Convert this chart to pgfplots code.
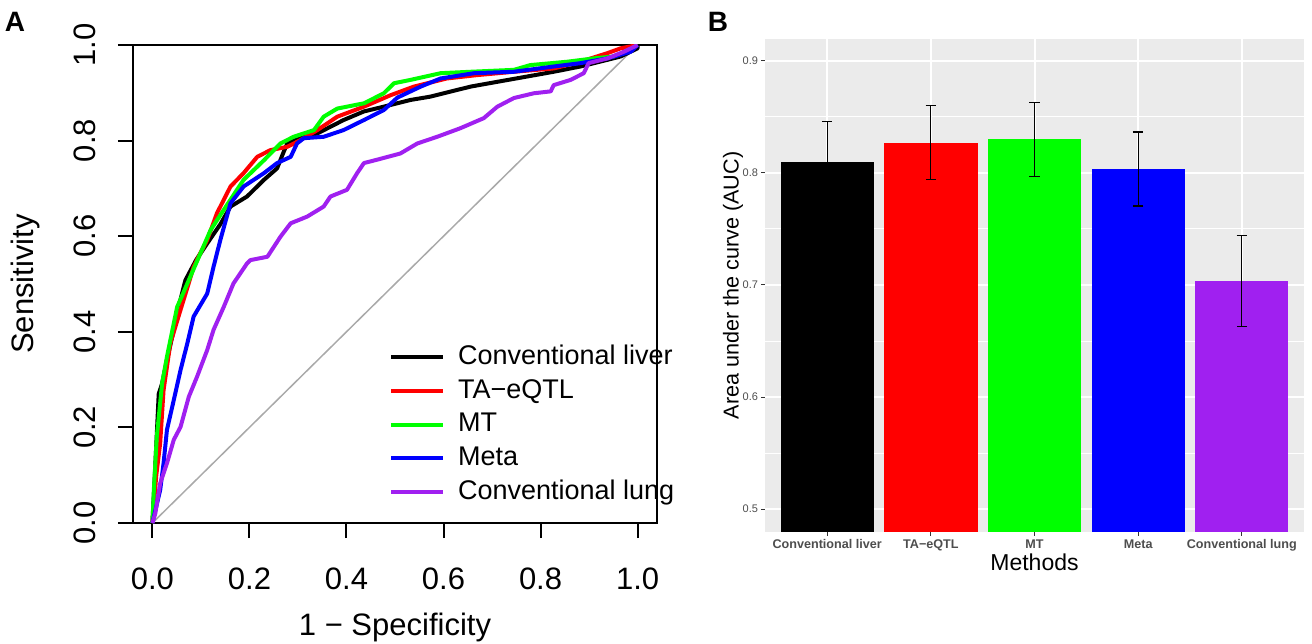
\documentclass[border=0pt]{standalone}
\usepackage{fontspec}
\setmainfont{Liberation Sans}
\usepackage{pgfplots}
\pgfplotsset{compat=1.18}
\definecolor{rpurple}{HTML}{A020F0}
\definecolor{rgreen}{HTML}{00FF00}
\definecolor{rgrey}{HTML}{A9A9A9}
\definecolor{ggbg}{HTML}{EBEBEB}
\definecolor{ggtext}{HTML}{4D4D4D}
\definecolor{ggtick}{HTML}{333333}
\newcommand{\fs}[1]{\fontsize{#1}{1.2\dimexpr#1pt\relax}\selectfont}

\begin{document}
\begin{tikzpicture}
\path[use as bounding box] (0,0) rectangle (656pt,321.5pt);

% panel letters
\node[font=\fs{14}\bfseries] at (7.5pt,310.5pt) {A};
\node[font=\fs{14}\bfseries] at (359pt,310.5pt) {B};

% ---- A: ROC curves ----
\begin{axis}[
  at={(66.5pt,60pt)}, anchor=south west,
  scale only axis, width=262pt, height=239pt,
  xmin=-0.04, xmax=1.04, ymin=0, ymax=1,
  axis line style={black, line width=1pt},
  xtick={0,0.2,0.4,0.6,0.8,1}, xticklabels={0.0,0.2,0.4,0.6,0.8,1.0},
  ytick={0,0.2,0.4,0.6,0.8,1}, yticklabels={0.0,0.2,0.4,0.6,0.8,1.0},
  tick align=outside, xtick pos=left, ytick pos=left,
  major tick length=7.5pt,
  tick style={black, line width=1pt},
  /pgf/number format/assume math mode=true,
  tick label style={font=\fs{15.5}, inner sep=0pt},
  xticklabel style={anchor=north},
  xticklabel shift=14.5pt,
  yticklabel style={rotate=90, anchor=south},
  yticklabel shift=11pt,
  xlabel={1 − Specificity}, ylabel={Sensitivity},
  every axis x label/.style={at={(axis description cs:0.5,0)}, anchor=center,
    yshift=-52pt, font=\fs{15.5}},
  every axis y label/.style={at={(axis description cs:-0.206,0.5)}, rotate=90,
    anchor=center, font=\fs{15.5}},
  legend cell align=left,
  legend image code/.code={\draw[#1] (0pt,0pt) -- (26pt,0pt);},
  legend style={at={(axis cs:0.487,0.3745)}, anchor=north west, draw=none, fill=none,
    inner sep=0pt, row sep=3.85pt, column sep=6.5pt, font=\fs{13.5},
    nodes={inner sep=0pt, text height=10pt, text depth=3pt}},
  every axis plot/.append style={line width=2pt, line join=round},
]
\addplot[rgrey, line width=0.75pt, forget plot] coordinates {(0,0) (1,1)};
\addplot[black] coordinates {
(0,0) (0.005,0.1) (0.013,0.27) (0.02,0.292) (0.03,0.341) (0.044,0.404) (0.054,0.452)
(0.068,0.508) (0.09,0.55) (0.113,0.585) (0.14,0.625) (0.161,0.662) (0.195,0.683)
(0.23,0.718) (0.257,0.742) (0.27,0.775) (0.278,0.794) (0.312,0.808) (0.34,0.815)
(0.394,0.843) (0.436,0.861) (0.477,0.871) (0.532,0.885) (0.573,0.892) (0.656,0.913)
(0.711,0.923) (0.772,0.934) (0.827,0.944) (0.882,0.955) (0.938,0.969) (0.965,0.976)
(1,0.993) (1,1)};
\addplot[red] coordinates {
(0,0) (0.008,0.1) (0.016,0.167) (0.023,0.278) (0.037,0.376) (0.058,0.446) (0.075,0.502)
(0.085,0.536) (0.099,0.565) (0.113,0.592) (0.133,0.648) (0.161,0.704) (0.188,0.732)
(0.216,0.766) (0.243,0.78) (0.278,0.787) (0.305,0.801) (0.34,0.822) (0.381,0.85)
(0.436,0.871) (0.491,0.895) (0.539,0.913) (0.607,0.93) (0.669,0.937) (0.745,0.944)
(0.827,0.951) (0.882,0.965) (0.938,0.983) (0.965,0.993) (1,1)};
\addplot[rgreen] coordinates {
(0,0) (0.003,0.069) (0.009,0.18) (0.02,0.292) (0.03,0.348) (0.051,0.452) (0.075,0.508)
(0.102,0.571) (0.12,0.613) (0.147,0.655) (0.188,0.718) (0.23,0.759) (0.264,0.794)
(0.291,0.808) (0.333,0.822) (0.353,0.85) (0.381,0.867) (0.436,0.878) (0.477,0.899)
(0.498,0.92) (0.532,0.927) (0.594,0.941) (0.656,0.944) (0.745,0.948) (0.779,0.958)
(0.855,0.965) (0.91,0.972) (0.951,0.976) (0.979,0.986) (1,1)};
\addplot[blue] coordinates {
(0,0) (0.016,0.069) (0.023,0.125) (0.03,0.195) (0.044,0.257) (0.058,0.32) (0.072,0.376)
(0.085,0.432) (0.113,0.48) (0.126,0.536) (0.14,0.592) (0.161,0.669) (0.188,0.704)
(0.23,0.732) (0.257,0.753) (0.285,0.766) (0.298,0.794) (0.312,0.805) (0.353,0.808)
(0.394,0.822) (0.436,0.843) (0.477,0.864) (0.505,0.89) (0.553,0.913) (0.594,0.93)
(0.663,0.941) (0.745,0.944) (0.827,0.955) (0.882,0.962) (0.938,0.972) (0.986,0.986) (1,1)};
\addplot[rpurple] coordinates {
(0,0) (0.006,0.02) (0.016,0.083) (0.03,0.125) (0.044,0.174) (0.058,0.201) (0.075,0.264)
(0.092,0.306) (0.113,0.362) (0.126,0.404) (0.147,0.452) (0.167,0.501) (0.195,0.543)
(0.202,0.55) (0.237,0.557) (0.264,0.599) (0.285,0.627) (0.319,0.641) (0.353,0.662)
(0.367,0.683) (0.401,0.697) (0.422,0.732) (0.436,0.753) (0.463,0.76) (0.511,0.773)
(0.546,0.794) (0.587,0.808) (0.635,0.826) (0.683,0.847) (0.711,0.871) (0.745,0.889)
(0.786,0.899) (0.821,0.903) (0.827,0.916) (0.862,0.927) (0.889,0.941) (0.899,0.962)
(0.938,0.972) (0.972,0.986) (1,1)};
\legend{Conventional liver,TA−eQTL,MT,Meta,Conventional lung}
\end{axis}

% ---- B: AUC bars ----
\begin{axis}[
  at={(382.5pt,55.5pt)}, anchor=south west,
  scale only axis, width=269.5pt, height=246.5pt,
  xmin=0.4, xmax=5.6, ymin=0.4795, ymax=0.9196,
  axis background/.style={fill=ggbg},
  axis lines*=left, axis line style={draw=none},
  xtick={1,2,3,4,5},
  xticklabels={Conventional liver,TA−eQTL,MT,Meta,Conventional lung},
  ytick={0.5,0.6,0.7,0.8,0.9}, yticklabels={0.5,0.6,0.7,0.8,0.9},
  minor ytick={0.55,0.65,0.75,0.85},
  grid=both,
  major grid style={white, line width=1pt},
  minor grid style={white, line width=0.5pt},
  tick align=outside, major tick length=1.9pt, minor tick length=0pt,
  tick style={ggtick, line width=0.5pt},
  xtick pos=left, ytick pos=left,
  /pgf/number format/assume math mode=true,
  xticklabel style={font=\fs{6.3}\bfseries, text=ggtext, anchor=north, inner sep=0pt, yshift=-1.6pt},
  yticklabel style={font=\fs{5.5}, text=ggtext, anchor=east, inner sep=0pt, xshift=-1.4pt},
  xlabel={Methods}, ylabel={Area under the curve (AUC)},
  every axis x label/.style={at={(axis description cs:0.5,0)}, anchor=center,
    yshift=-15pt, font=\fs{11.5}},
  every axis y label/.style={at={(axis description cs:-0.0594,0.5)}, rotate=90,
    anchor=center, font=\fs{10.8}},
  every axis plot/.append style={ybar, bar width=0.9, bar shift=0pt, draw=none},
  error bars/error bar style={black, line width=0.6pt},
  error bars/error mark options={black, rotate=90, mark size=2.6pt, line width=0.6pt},
]
\addplot[fill=black, error bars/.cd, y dir=both, y explicit]
  coordinates {(1,0.810) +- (0,0.036)};
\addplot[fill=red, error bars/.cd, y dir=both, y explicit]
  coordinates {(2,0.827) +- (0,0.033)};
\addplot[fill=rgreen, error bars/.cd, y dir=both, y explicit]
  coordinates {(3,0.830) +- (0,0.033)};
\addplot[fill=blue, error bars/.cd, y dir=both, y explicit]
  coordinates {(4,0.8036) +- (0,0.033)};
\addplot[fill=rpurple, error bars/.cd, y dir=both, y explicit]
  coordinates {(5,0.7036) +- (0,0.0403)};
\end{axis}
\end{tikzpicture}
\end{document}
